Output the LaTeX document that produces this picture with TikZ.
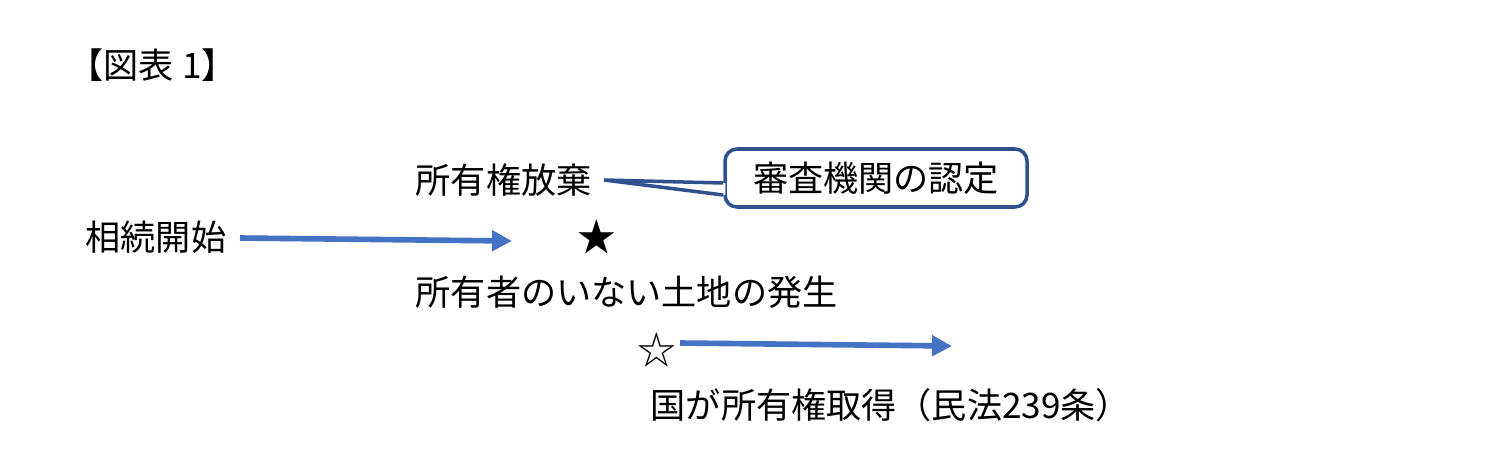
\documentclass[tikz,border=0pt]{standalone}
\usepackage{fontspec}
\setmainfont{Noto Sans CJK JP}
\usetikzlibrary{arrows.meta, calc, positioning}
\definecolor{arrowblue}{HTML}{4472C4}
\definecolor{boxblue}{HTML}{2F528F}
\tikzstyle{txt} = [inner sep=0pt, anchor=west, font=\fontsize{10}{12}\selectfont]
\tikzstyle{starmark} = [inner sep=0pt, font=\fontsize{11}{12}\selectfont]
\tikzstyle{arrow} = [-{Triangle[length=0.2cm, width=0.2cm]}, arrowblue, line width=1.6pt]

\begin{document}
\begin{tikzpicture}
	\useasboundingbox (0,0) rectangle (14.87,4.70);

	% set up nodes
	\node (title) [txt] at (0.68,4.05) {【図表 1】};
	\node (abandon) [txt] at (4.15,2.90) {所有権放棄};
	\node (cert) [rectangle, rounded corners=0.12cm, draw=boxblue, line width=1pt, fill=white,
		minimum width=3.02cm, minimum height=0.58cm, font=\fontsize{10}{12}\selectfont] at (8.76,2.92) {審査機関の認定};
	\node (start) [txt] at (0.85,2.33) {相続開始};
	\node (star) [starmark] at (5.97,2.33) {★};
	\node (noowner) [txt] at (4.15,1.78) {所有者のいない土地の発生};
	\node (wstar) [starmark] at (6.57,1.20) {☆};
	\node (state) [txt] at (6.50,0.65) {国が所有権取得（民法239条）};

	% set up callout pointer
	\coordinate (tip) at ([xshift=0.12cm]abandon.east);
	\fill [white] ($(cert.west)+(0.02,-0.05)$) -- (tip) -- ($(cert.west)+(0.02,-0.17)$) -- cycle;
	\draw [boxblue, line width=1pt] ($(cert.west)+(0,-0.05)$) -- (tip) -- ($(cert.west)+(0,-0.17)$);

	% set up arrows
	\coordinate (a1s) at (2.40,2.32);
	\coordinate (a1e) at (5.12,2.29);
	\coordinate (a2s) at (6.80,1.27);
	\coordinate (a2e) at (9.52,1.24);
	\draw [arrow] (a1s) -- (a1e);
	\draw [arrow] (a2s) -- (a2e);

\end{tikzpicture}
\end{document}
